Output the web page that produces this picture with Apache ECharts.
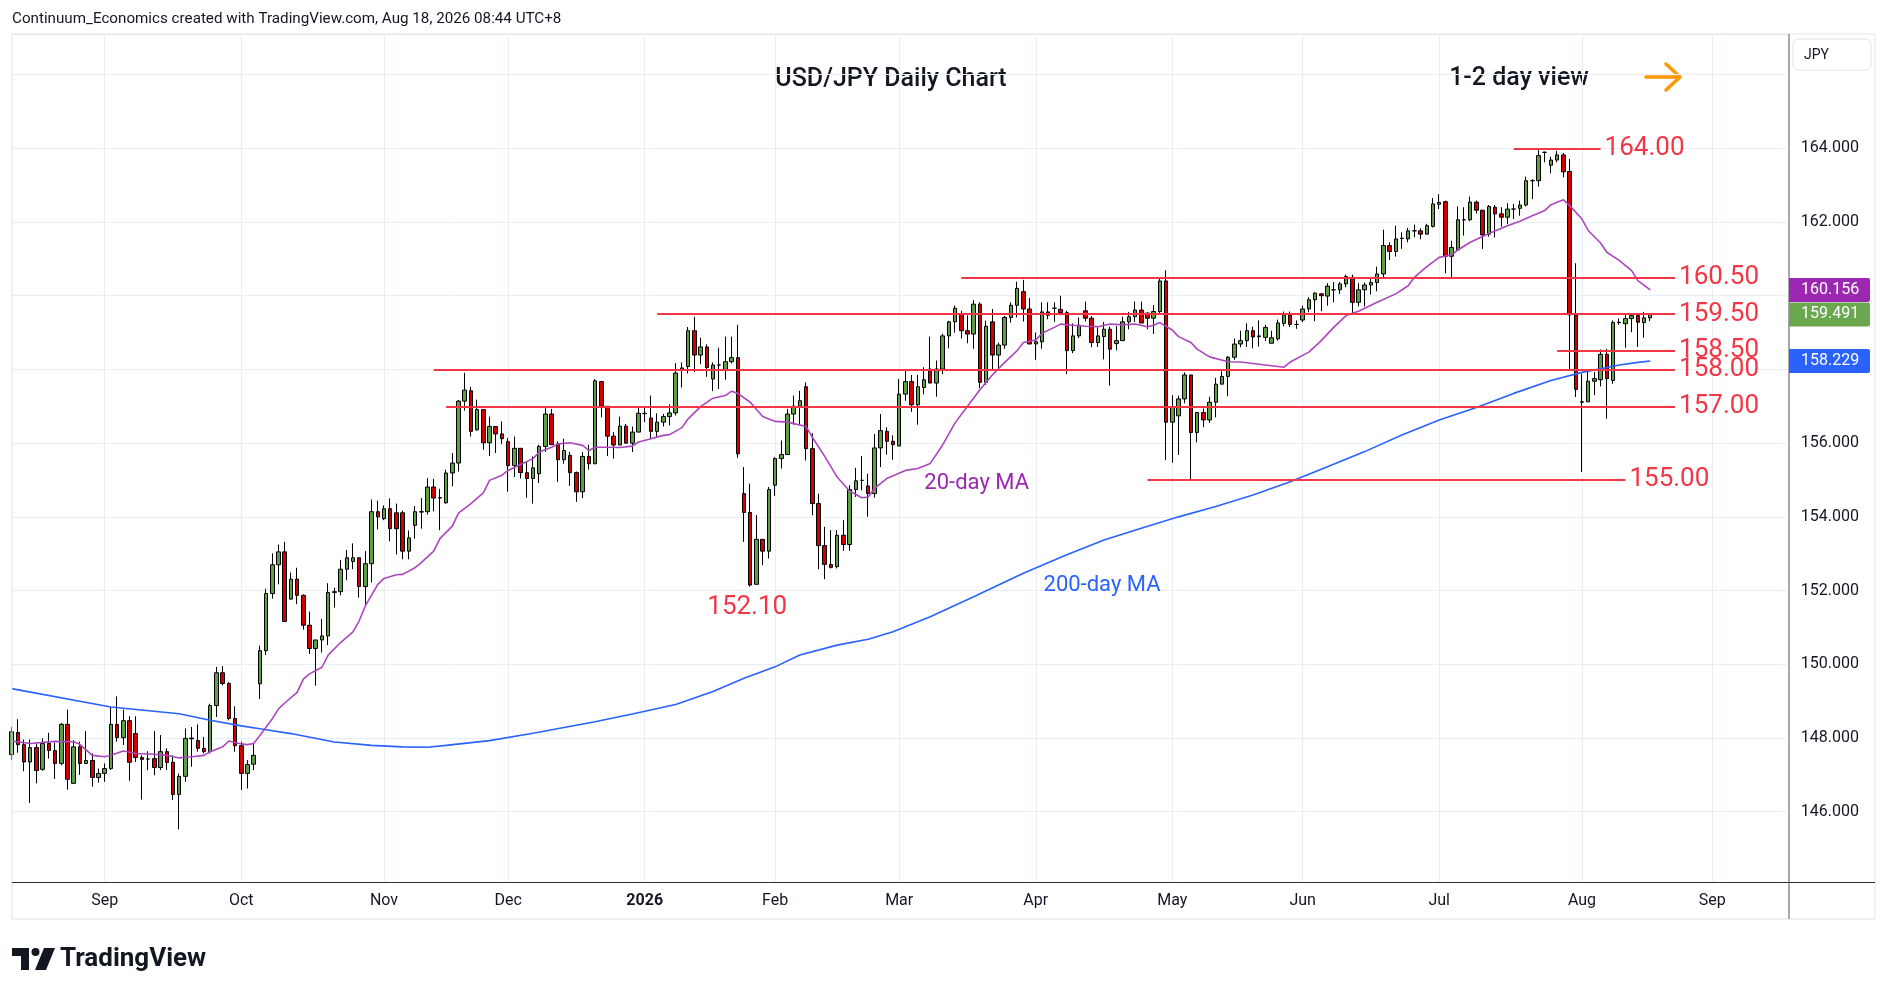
<!DOCTYPE html>
<html>
<head>
<meta charset="utf-8">
<title>USD/JPY Daily Chart</title>
<script src="https://cdn.jsdelivr.net/npm/echarts@6/dist/echarts.min.js"></script>
<style>
  html, body { margin: 0; padding: 0; background: #fff; }
  #chart { width: 1888px; height: 996px; }
</style>
</head>
<body>
<div id="chart"></div>
<script>
// daily candles, one row per day: [open, high, low, close]
const aug2025 = [
  [147.55,148.30,147.40,148.17],[148.15,148.51,147.60,147.82],[147.82,147.96,147.10,147.35],
  [147.35,147.96,146.24,147.74],[147.74,147.85,146.77,147.12],[147.15,147.99,147.11,147.85],
  [147.85,148.14,147.44,147.66],[147.66,147.87,146.89,147.31],[147.31,148.41,147.26,148.37],
  [148.37,148.77,146.60,146.88],[146.77,147.94,146.77,147.76],[147.76,147.90,147.00,147.31],
  [147.31,148.19,147.31,147.39],[147.39,147.58,146.68,146.93],[146.93,147.17,146.79,147.04]
];
const sep2025 = [
  [147.04,147.31,146.81,147.17],[147.17,148.84,147.13,148.37],[148.37,149.13,147.90,148.01],
  [148.01,148.77,147.81,148.47],[148.47,148.59,146.84,147.34],[148.12,148.59,147.35,147.47],
  [147.47,147.53,146.33,147.42],[147.43,147.64,147.13,147.43],[147.44,148.19,146.99,147.20],
  [147.20,148.08,147.13,147.63],[147.63,147.72,147.13,147.34],[147.34,147.53,146.32,146.47],
  [146.47,147.04,145.52,146.96],[146.96,148.26,146.81,147.99],[147.98,148.30,147.22,148.00],
  [147.93,148.37,147.63,147.72],[147.72,148.03,147.58,147.63],[147.63,148.93,147.58,148.88],
  [148.88,149.93,148.57,149.77],[149.77,149.95,149.43,149.48],[149.48,149.52,148.48,148.53],
  [148.53,148.86,147.63,147.79]
];
const oct2025 = [
  [147.79,147.90,146.59,147.04],[147.04,147.40,146.63,147.28],[147.29,147.85,147.13,147.53],
  [149.47,150.50,149.06,150.37],[150.37,152.05,150.25,151.92],[151.92,153.01,151.78,152.70],
  [152.70,153.25,152.17,153.05],[153.05,153.32,151.16,151.16],[151.77,152.49,151.75,152.31],
  [152.31,152.62,151.63,151.87],[151.87,151.90,150.94,151.06],[151.06,151.43,150.28,150.43],
  [150.43,150.66,149.42,150.66],[150.66,151.23,150.32,150.77],[150.77,152.20,150.52,151.95],
  [151.95,152.08,151.54,151.97],[151.97,152.83,151.87,152.58],[152.58,153.10,152.28,152.89],
  [152.79,153.28,152.58,152.89],[152.89,152.89,151.81,152.11],[152.11,153.07,151.59,152.73],
  [152.73,154.47,152.22,154.14],[154.14,154.44,153.66,154.00]
];
const nov2025 = [
  [153.95,154.31,153.91,154.22],[154.22,154.50,153.34,153.68],[154.11,154.36,152.98,153.68],
  [154.11,154.17,152.85,153.07],[153.07,153.63,152.85,153.43],[153.77,154.29,153.41,154.14],
  [154.13,154.51,153.68,154.14],[154.14,155.05,154.06,154.81],[154.81,155.03,154.15,154.51],
  [154.52,154.76,153.64,154.51],[154.38,155.28,154.36,155.19],[155.19,155.73,154.83,155.46],
  [155.46,157.17,155.23,157.14],[157.14,157.91,156.88,157.44],[157.42,157.53,156.18,156.32],
  [156.36,157.18,156.34,156.91],[156.91,156.91,155.82,156.01],[156.01,156.72,155.65,156.45],
  [156.45,156.45,155.73,156.25],[156.25,156.59,155.98,156.12]
];
const dec2025 = [
  [156.04,156.14,154.68,155.39],[155.39,156.18,155.08,155.86],[155.86,155.86,155.04,155.20],
  [155.20,155.51,154.52,155.04],[155.04,155.64,154.36,155.33],[155.17,155.96,154.92,155.91],
  [155.91,156.95,155.76,156.79],[156.79,156.93,155.96,155.96],[155.98,156.05,154.95,155.55],
  [155.55,156.12,155.44,155.80],[155.67,155.76,154.84,155.20],[155.20,155.23,154.41,154.68],
  [154.68,155.76,154.51,155.64],[155.64,155.96,155.28,155.44],[155.44,157.74,155.44,157.69],
  [157.67,157.69,156.70,157.00],[157.00,157.00,155.65,156.19],[156.19,156.30,155.58,155.95],
  [155.95,156.72,155.94,156.46],[156.46,156.52,156.00,156.00],[156.00,156.45,155.76,156.30],
  [156.30,156.97,156.30,156.81]
];
const jan2026 = [
  [156.80,156.99,156.57,156.81],[156.68,157.29,156.12,156.32],[156.32,156.81,156.16,156.57],
  [156.57,156.79,156.45,156.72],[156.72,157.05,156.48,156.82],[156.82,158.17,156.75,157.90],
  [158.00,158.19,157.51,158.04],[158.08,159.15,157.89,159.05],[159.05,159.43,157.93,158.39],
  [158.39,158.86,158.14,158.61],[158.61,158.68,157.80,158.05],[157.74,158.19,157.41,158.12],
  [158.12,158.59,157.47,158.12],[157.99,158.89,157.72,158.21],[158.21,158.89,158.16,158.32],
  [158.32,159.21,155.60,155.71],[154.63,155.35,153.32,154.12],[154.12,154.90,152.11,152.15],
  [152.17,154.05,152.17,153.39],[153.39,153.39,152.69,153.07],[153.07,154.81,152.87,154.74]
];
const feb2026 = [
  [154.86,155.62,154.57,155.58],[155.58,156.07,155.31,155.69],[155.69,156.93,155.69,156.79],
  [156.79,157.29,156.50,157.00],[157.00,157.42,156.50,157.15],[157.53,157.65,155.53,155.85],
  [155.85,156.27,154.04,154.36],[154.36,154.63,152.58,153.22],[153.22,153.73,152.31,152.71],
  [152.71,153.64,152.60,152.63],[152.65,153.64,152.60,153.50],[153.50,153.91,153.08,153.25],
  [153.25,154.86,153.08,154.74],[154.74,155.33,154.54,154.98],[154.99,155.65,154.72,154.99],
  [154.84,155.17,154.00,154.63],[154.63,156.25,154.52,155.87],[155.87,156.79,155.35,156.34],
  [156.32,156.43,155.69,156.05],[156.05,156.21,155.55,155.96]
];
const mar2026 = [
  [155.92,157.74,155.92,157.33],[157.33,157.96,157.15,157.67],[157.67,157.85,156.85,157.04],
  [157.04,157.85,156.50,157.53],[157.51,158.06,157.33,157.72],[158.01,158.89,157.63,157.63],
  [157.63,158.24,157.26,158.01],[158.01,158.97,157.87,158.91],[158.91,159.32,158.57,159.29],
  [159.29,159.73,159.00,159.66],[159.50,159.59,158.84,159.05],[159.05,159.47,158.71,158.96],
  [158.96,159.88,158.56,159.77],[159.77,159.82,157.49,157.65],[157.65,159.32,157.58,159.17],
  [159.29,159.64,158.01,158.39],[158.39,158.73,157.96,158.66],[158.66,159.45,158.56,159.41],
  [159.41,159.82,159.27,159.74],[159.74,160.38,159.41,160.20],[160.11,160.43,159.30,159.64],
  [159.64,159.94,158.69,158.69]
];
const apr2026 = [
  [158.69,159.00,158.26,158.75],[158.75,159.82,158.56,159.56],[159.56,159.82,159.36,159.47],
  [159.66,159.82,159.29,159.66],[159.63,160.00,159.47,159.54],[159.54,159.59,157.87,158.51],
  [158.51,159.25,158.44,158.91],[158.91,159.41,158.85,159.20],[159.59,159.84,159.30,159.39],
  [159.39,159.45,158.60,158.73],[158.73,159.14,158.61,158.91],[158.89,159.29,158.27,159.09],
  [159.09,159.16,157.56,158.55],[158.70,159.18,158.52,158.78],[158.78,159.43,158.78,159.29],
  [159.29,159.56,159.09,159.43],[159.43,159.84,159.29,159.61],[159.61,159.84,159.26,159.26],
  [159.53,159.54,159.09,159.39],[159.39,159.75,158.96,159.57],[159.57,160.48,159.48,160.40],
  [160.40,160.69,155.54,156.57]
];
const may2026 = [
  [156.57,157.30,155.47,156.98],[156.74,157.29,155.68,157.20],[157.20,157.92,157.08,157.85],
  [157.85,157.85,155.01,156.29],[156.29,156.83,156.02,156.83],[156.83,156.94,156.43,156.63],
  [156.63,157.26,156.55,157.11],[157.11,157.77,156.70,157.60],[157.60,157.95,157.60,157.81],
  [157.81,158.36,157.27,158.33],[158.33,158.84,158.26,158.69],[158.69,159.05,158.60,158.78],
  [158.78,159.25,158.61,159.05],[159.05,159.16,158.57,158.88],[158.89,159.33,158.62,158.91],
  [158.87,159.21,158.77,159.14],[158.71,159.05,158.71,158.86],[158.83,159.35,158.78,159.26],
  [159.25,159.57,159.17,159.48],[159.48,159.57,159.15,159.22],[159.22,159.33,159.10,159.22]
];
const jun2026 = [
  [159.34,159.73,159.28,159.64],[159.64,159.96,159.55,159.89],[159.89,160.09,159.31,160.07],
  [160.05,160.07,159.58,160.00],[159.99,160.34,159.73,160.26],[160.16,160.37,159.82,160.16],
  [160.16,160.37,160.04,160.32],[160.32,160.57,160.23,160.52],[160.50,160.57,159.52,159.82],
  [159.82,160.34,159.71,160.16],[160.16,160.36,159.71,160.29],[160.29,160.45,160.03,160.36],
  [160.36,160.79,160.12,160.59],[160.59,161.79,160.48,161.36],[161.36,161.45,160.97,161.20],
  [161.20,161.90,161.06,161.54],[161.55,161.72,161.27,161.56],[161.54,161.84,161.45,161.76],
  [161.76,161.93,161.59,161.76],[161.76,161.83,161.53,161.67],[161.67,161.95,161.67,161.90],
  [161.88,162.65,161.85,162.49]
];
const jul2026 = [
  [162.48,162.75,162.35,162.53],[162.55,162.58,160.61,161.07],[161.07,161.49,160.47,161.31],
  [161.24,162.42,161.22,162.06],[162.06,162.40,161.63,162.06],[162.06,162.69,162.02,162.54],
  [162.54,162.58,162.23,162.32],[162.32,162.32,161.27,161.65],[161.67,162.46,161.60,162.42],
  [162.40,162.46,161.58,162.22],[162.22,162.40,161.87,162.13],[162.13,162.51,161.94,162.35],
  [162.35,162.49,162.08,162.35],[162.37,162.58,162.17,162.46],[162.46,163.23,162.42,163.12],
  [163.12,163.16,162.62,163.12],[163.12,163.95,162.96,163.80],[163.89,163.91,163.62,163.89],
  [163.54,163.77,163.32,163.68],[163.68,163.93,163.62,163.82],[163.82,163.87,163.21,163.36],
  [163.37,163.71,157.96,159.48],[159.48,160.88,157.25,157.46]
];
const aug2026 = [
  [157.12,157.88,155.22,157.11],[157.12,157.95,157.12,157.68],[157.68,157.93,157.30,157.75],
  [157.72,158.54,157.54,158.41],[158.41,158.56,156.66,157.75],[157.70,159.33,157.61,159.27],
  [159.27,159.38,159.21,159.28],[159.24,159.51,158.59,159.38],[159.38,159.53,159.01,159.46],
  [159.46,159.51,158.61,159.28],[159.27,159.56,158.86,159.40],[159.40,159.51,159.31,159.49]
];

// moving averages: [bar number, value]
const ma20Points = [
  [0,147.92],[3,147.85],[7,147.91],[10,147.90],[11,147.83],[13,147.53],[15,147.49],[16,147.53],
  [18,147.65],[20,147.58],[23,147.56],[25,147.53],[27,147.46],[29,147.49],[31,147.53],[32,147.63],
  [34,147.76],[35,147.92],[37,147.84],[38,147.82],[39,147.85],[40,148.07],[42,148.52],[43,148.79],
  [44,148.95],[46,149.24],[47,149.60],[48,149.74],[50,149.92],[51,150.25],[53,150.59],[55,150.88],
  [56,151.18],[57,151.59],[59,152.17],[60,152.33],[62,152.43],[63,152.44],[65,152.62],[66,152.76],
  [68,153.07],[69,153.41],[71,153.75],[72,154.10],[74,154.36],[76,154.65],[77,154.99],[79,155.13],
  [80,155.26],[82,155.42],[84,155.58],[85,155.76],[87,155.89],[88,155.98],[90,156.01],[92,155.94],
  [93,155.80],[94,155.89],[96,155.89],[98,155.88],[100,155.92],[101,156.03],[103,156.12],[105,156.21],
  [106,156.23],[108,156.42],[109,156.66],[111,156.99],[113,157.22],[115,157.29],[116,157.41],[117,157.35],
  [119,157.11],[121,156.72],[123,156.59],[125,156.57],[128,156.45],[129,156.16],[131,155.64],[133,155.08],
  [135,154.70],[137,154.52],[138,154.54],[139,154.77],[141,155.04],[144,155.26],[146,155.31],[148,155.45],
  [150,155.95],[152,156.55],[154,157.00],[156,157.45],[158,157.85],[160,158.19],[162,158.51],[163,158.73],
  [165,158.80],[166,158.98],[168,159.14],[169,159.23],[171,159.20],[173,159.17],[175,159.16],[177,159.23],
  [179,159.21],[181,159.23],[183,159.16],[184,159.20],[185,159.27],[187,159.07],[188,158.89],[190,158.73],
  [191,158.55],[193,158.34],[196,158.21],[198,158.20],[202,158.12],[205,158.06],[206,158.20],[209,158.47],
  [211,158.78],[213,159.14],[215,159.46],[217,159.58],[220,159.82],[223,160.05],[225,160.27],[226,160.50],
  [228,160.79],[230,161.04],[232,161.11],[233,161.24],[235,161.45],[238,161.69],[241,161.90],[243,162.02],
  [245,162.17],[247,162.31],[248,162.47],[250,162.60],[251,162.45],[253,162.08],[254,161.77],[256,161.43],
  [257,161.18],[259,160.96],[261,160.68],[262,160.41],[264,160.16]
];
const ma200Points = [
  [0,149.34],[16,148.84],[27,148.66],[32,148.48],[37,148.33],[40,148.25],[45,148.12],[52,147.89],
  [58,147.80],[63,147.76],[67,147.75],[70,147.80],[77,147.93],[84,148.13],[94,148.44],[100,148.65],
  [107,148.91],[113,149.26],[118,149.62],[123,149.93],[127,150.25],[133,150.52],[138,150.68],[142,150.88],
  [148,151.29],[155,151.83],[163,152.47],[170,152.97],[176,153.37],[182,153.69],[188,154.00],[194,154.28],
  [200,154.59],[206,154.95],[212,155.36],[218,155.77],[224,156.22],[230,156.63],[236,156.97],[242,157.35],
  [248,157.70],[253,157.92],[256,158.02],[259,158.12],[262,158.19],[264,158.23]
];

// horizontal levels drawn on the chart
const levelPrices = [164.00, 160.50, 159.50, 158.50, 158.00, 157.00, 155.00];
const levelFrom   = ['2026-07-17','2026-03-16','2026-01-06','2026-07-28','2025-11-13','2025-11-17','2026-04-27'];
const levelTo     = ['2026-08-06','2026-08-24','2026-08-24','2026-08-24','2026-08-24','2026-08-24','2026-08-12'];

const lastMa20 = 160.156;
const lastClose = 159.491;
const lastMa200 = 158.229;

const holidays = ['2025-12-25', '2026-01-01'];
const futureBars = 22;
const monthNames = ['Jan','Feb','Mar','Apr','May','Jun','Jul','Aug','Sep','Oct','Nov','Dec'];

const candles = [].concat(aug2025, sep2025, oct2025, nov2025, dec2025, jan2026, feb2026,
  mar2026, apr2026, may2026, jun2026, jul2026, aug2026);

// trading days (weekdays minus holidays) from the first bar on
const dates = [];
(function () {
  const d = new Date(Date.UTC(2025, 7, 11));
  while (dates.length < candles.length + futureBars) {
    const s = d.toISOString().slice(0, 10);
    const wd = d.getUTCDay();
    if (wd !== 0 && wd !== 6 && holidays.indexOf(s) < 0) dates.push(s);
    d.setUTCDate(d.getUTCDate() + 1);
  }
})();
const monthStart = dates.map((s, i) => i > 0 && s.slice(5, 7) !== dates[i - 1].slice(5, 7));

const FONT = 'Roboto, "Noto Sans", sans-serif';
const INK = '#131722';
const GRID = '#e9eef5';
const LEVEL = '#f23645';
const UP = '#5e9f45';
const DOWN = '#d10000';

const chart = echarts.init(document.getElementById('chart'), null, { renderer: 'canvas' });

const levelLines = levelPrices.map((p, k) => [
  { coord: [levelFrom[k], p] },
  { coord: [levelTo[k], p], label: { formatter: p.toFixed(2) } }
]);

function textMark(date, value, text, color, size, offset) {
  return {
    coord: [date, value], symbol: 'rect', symbolSize: 1,
    itemStyle: { color: 'rgba(0,0,0,0)' },
    label: { show: true, position: 'inside', formatter: text, color: color,
      fontSize: size, fontFamily: FONT, offset: offset || [0, 0] }
  };
}

const option = {
  animation: false,
  backgroundColor: '#ffffff',
  textStyle: { fontFamily: FONT },
  grid: { left: 11.6, right: 101.2, top: 34, bottom: 113.5 },
  xAxis: {
    type: 'category',
    data: dates,
    boundaryGap: false,
    axisLine: { show: false },
    axisTick: { show: false },
    axisLabel: {
      interval: (i) => monthStart[i],
      margin: 10,
      fontSize: 16,
      color: INK,
      formatter: (v) => {
        const m = +v.slice(5, 7);
        return m === 1 ? '{y|' + v.slice(0, 4) + '}' : monthNames[m - 1];
      },
      rich: { y: { fontSize: 16, fontWeight: 'bold', color: INK, fontFamily: FONT } }
    },
    splitLine: { show: true, interval: (i) => monthStart[i], lineStyle: { color: GRID, width: 1 } }
  },
  yAxis: {
    type: 'value',
    position: 'right',
    min: 144.08,
    max: 167.10,
    splitNumber: 11,
    minInterval: 2,
    maxInterval: 2,
    axisLine: { show: false },
    axisTick: { show: false },
    axisLabel: {
      showMinLabel: false,
      showMaxLabel: false,
      margin: 14,
      fontSize: 16,
      color: INK,
      formatter: (v) => (Math.abs(v - 166) < 1e-6 ? '' : v.toFixed(3))
    },
    splitLine: { lineStyle: { color: GRID, width: 1 } }
  },
  series: [
    {
      name: 'USD/JPY',
      type: 'candlestick',
      data: candles.map(([o, h, l, c]) => [o, c, l, h]),
      barWidth: 4,
      itemStyle: { color: UP, color0: DOWN, borderColor: '#000', borderColor0: '#000', borderWidth: 1 }
    },
    {
      name: '200-day MA',
      type: 'line',
      data: ma200Points.map(([i, v]) => [dates[i], v]),
      symbol: 'none',
      lineStyle: { color: '#2962ff', width: 1.6 },
      markLine: {
        silent: true,
        symbol: ['none', 'none'],
        lineStyle: { color: LEVEL, width: 2, type: 'solid' },
        label: { show: true, position: 'end', distance: 4, color: LEVEL, fontSize: 26, fontFamily: FONT },
        data: levelLines
      },
      markPoint: {
        silent: true,
        data: [
          textMark('2026-01-27', 151.57, '152.10', LEVEL, 26, [-3, 1]),
          textMark('2026-03-18', 154.97, '20-day MA', '#9c27b0', 22, [3, 2]),
          textMark('2026-04-16', 152.18, '200-day MA', '#2962ff', 22, [-2, 2])
        ]
      }
    },
    {
      name: '20-day MA',
      type: 'line',
      data: ma20Points.map(([i, v]) => [dates[i], v]),
      symbol: 'none',
      lineStyle: { color: '#ab47bc', width: 1.6 }
    }
  ],
  graphic: [
    { id: 'border', type: 'rect', z: 50, shape: { x: 12, y: 34, width: 1863, height: 885 },
      style: { fill: null, stroke: '#e0e3eb', lineWidth: 1 }, silent: true },
    { id: 'xline', type: 'rect', z: 51, shape: { x: 12, y: 882, width: 1863, height: 1 },
      style: { fill: '#2a2e39' }, silent: true },
    { id: 'yline', type: 'rect', z: 51, shape: { x: 1788.5, y: 34, width: 1, height: 885 },
      style: { fill: '#50535e' }, silent: true },
    { id: 'header', type: 'text', x: 12, y: 19,
      style: { text: 'Continuum_Economics created with TradingView.com, Aug 18, 2026 08:44 UTC+8',
        font: '15.2px ' + FONT, fill: INK, align: 'left', verticalAlign: 'middle' } },
    { id: 'title', type: 'text', x: 891, y: 80,
      style: { text: 'USD/JPY Daily Chart', font: '500 25px ' + FONT, fill: INK,
        align: 'center', verticalAlign: 'middle' } },
    { id: 'view', type: 'text', x: 1519, y: 79,
      style: { text: '1-2 day view', font: '500 25px ' + FONT, fill: INK,
        align: 'center', verticalAlign: 'middle' } },
    { id: 'arrowShaft', type: 'line', shape: { x1: 1646, y1: 77, x2: 1679, y2: 77 },
      style: { stroke: '#ff9800', lineWidth: 3.5, lineCap: 'round' } },
    { id: 'arrowHead', type: 'polyline', shape: { points: [[1666, 64], [1680, 77], [1666, 90]] },
      style: { stroke: '#ff9800', lineWidth: 3.5, fill: null, lineCap: 'round', lineJoin: 'round' } },
    { id: 'ccyBox', type: 'rect', shape: { x: 1793, y: 39, width: 78, height: 31, r: 5 },
      style: { fill: '#fff', stroke: '#e0e3eb', lineWidth: 1 } },
    { id: 'ccyText', type: 'text', x: 1804, y: 55,
      style: { text: 'JPY', font: '14px ' + FONT, fill: INK, align: 'left', verticalAlign: 'middle' } },
    { id: 'logo1', type: 'polygon',
      shape: { points: [[12, 948], [29, 948], [29, 970], [21, 970], [21, 956], [12, 956]] },
      style: { fill: INK } },
    { id: 'logo2', type: 'circle', shape: { cx: 35.5, cy: 952, r: 4 }, style: { fill: INK } },
    { id: 'logo3', type: 'polygon',
      shape: { points: [[44, 948], [55, 948], [46, 970], [35, 970]] }, style: { fill: INK } },
    { id: 'logoText', type: 'text', x: 60, y: 959,
      style: { text: 'TradingView', font: 'bold 26px ' + FONT, fill: INK,
        align: 'left', verticalAlign: 'middle' } }
  ]
};

chart.setOption(option);

// last-value tags on the price axis
const tags = [[lastMa20, '#9c27b0'], [lastClose, '#6aa84f'], [lastMa200, '#2962ff']];
const tagGraphics = [];
tags.forEach(([v, color], k) => {
  const y = chart.convertToPixel({ yAxisIndex: 0 }, v);
  tagGraphics.push({ id: 'tagBox' + k, type: 'rect', z: 100,
    shape: { x: 1789, y: y - 12, width: 81, height: 24, r: [0, 2, 2, 0] }, style: { fill: color } });
  tagGraphics.push({ id: 'tagText' + k, type: 'text', z: 101, x: 1801, y: y,
    style: { text: v.toFixed(3), font: '16px ' + FONT, fill: '#fff', align: 'left', verticalAlign: 'middle' } });
});
chart.setOption({ graphic: tagGraphics });
</script>
</body>
</html>
